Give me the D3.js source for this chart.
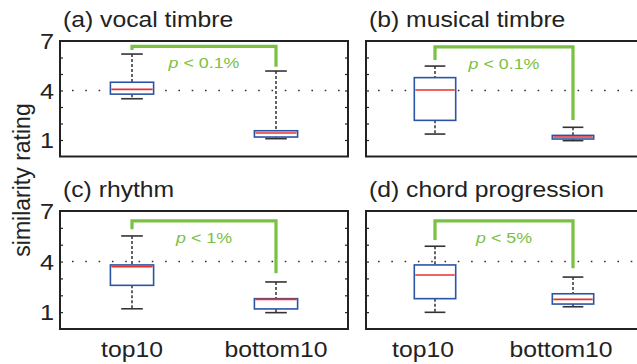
<!DOCTYPE html>
<html>
<head>
<meta charset="utf-8">
<script src="https://cdn.jsdelivr.net/npm/d3@7"></script>
<style>
  body { margin: 0; background: #fff; }
  svg text { font-family: "Liberation Sans", Arial, sans-serif; fill: #222; }
</style>
</head>
<body>
<div id="plot"></div>
<script>
let svgWidth = 637;
let svgHeight = 364;

// data
let groups = ['top10', 'bottom10'];
let titles = ['(a) vocal timbre', '(b) musical timbre', '(c) rhythm', '(d) chord progression'];
let whiskerHi = [[6.21, 5.18], [5.48, 1.77], [5.52, 2.79], [4.91, 3.08]];
let q3 = [[4.50, 1.56], [4.78, 1.28], [3.80, 1.80], [3.80, 2.09]];
let medians = [[4.07, 1.42], [4.03, 1.18], [3.70, 1.76], [3.20, 1.76]];
let q1 = [[3.78, 1.18], [2.19, 1.06], [2.59, 1.19], [1.80, 1.48]];
let whiskerLo = [[3.50, 1.08], [1.36, 0.96], [1.20, 0.97], [0.99, 1.32]];
let bracketTop = [6.68, 6.64, 6.42, 6.42];
let bracketLeft = [6.45, 5.85, 5.91, 5.28];
let bracketRight = [5.44, 2.21, 3.30, 3.60];
let pLabels = ['0.1%', '0.1%', '1%', '5%'];
let yTickLabels = [1, 4, 7];
let yMinorTicks = [1, 2, 3, 4, 5, 6];

// panel frames
let cols = [[60, 348], [366, 642]];
let rows = [[41, 156.5], [211, 329]];
let stretch = 1.15;

let green = '#7ac143';
let blue = '#2a55a5';
let red = '#e8312f';
let dark = '#222';

let $svg = d3.select('#plot')
    .append('svg')
    .attr('width', svgWidth)
    .attr('height', svgHeight);

// y label
$svg.append('text')
    .attr('transform', `translate(30, 180) rotate(-90)`)
    .attr('text-anchor', 'middle')
    .style('font-size', '23px')
    .text('similarity rating');

titles.forEach((title, i) => {
    let col = cols[i % 2];
    let row = rows[Math.floor(i / 2)];

    let x = d3.scaleLinear().domain([0.5, 2.5]).range(col);
    let y = d3.scaleLinear().domain([0, 7]).range([row[1], row[0]]);
    let unit = x(2) - x(1);
    let boxW = unit * 0.3;
    let capW = unit * 0.15;

    let g = $svg.append('g');

    // title
    g.append('text')
        .attr('transform', `translate(${col[0] + 3}, ${row[0] - 14}) scale(${stretch}, 1)`)
        .style('font-size', '21.5px')
        .text(title);

    // dotted line at 4
    g.append('line')
        .attr('x1', col[0]).attr('x2', col[1])
        .attr('y1', y(4)).attr('y2', y(4))
        .attr('stroke', '#333')
        .attr('stroke-width', 1.6)
        .attr('stroke-dasharray', '1.6,11.7')
        .attr('stroke-dashoffset', -12);

    // inner ticks, left and right
    let leftAxis = d3.axisRight(y).tickValues(yMinorTicks).tickSize(3).tickFormat('');
    let rightAxis = d3.axisLeft(y).tickValues(yMinorTicks).tickSize(3).tickFormat('');
    g.append('g').attr('transform', `translate(${col[0]}, 0)`).call(leftAxis);
    g.append('g').attr('transform', `translate(${col[1]}, 0)`).call(rightAxis);
    g.selectAll('.domain').remove();
    g.selectAll('.tick line').attr('stroke', dark).attr('stroke-width', 1.2);

    // tick labels on the left column only
    if (i % 2 === 0) {
        yTickLabels.forEach(v => {
            g.append('text')
                .attr('transform', `translate(${col[0] - 6}, ${y(v) + 8}) scale(${stretch}, 1)`)
                .attr('text-anchor', 'end')
                .style('font-size', '22px')
                .text(v);
        });
    }

    // boxes
    groups.forEach((name, j) => {
        let cx = x(j + 1);

        g.append('line')
            .attr('x1', cx).attr('x2', cx)
            .attr('y1', y(whiskerHi[i][j])).attr('y2', y(q3[i][j]))
            .attr('stroke', '#111').attr('stroke-width', 1.3)
            .attr('stroke-dasharray', '3,2');
        g.append('line')
            .attr('x1', cx).attr('x2', cx)
            .attr('y1', y(q1[i][j])).attr('y2', y(whiskerLo[i][j]))
            .attr('stroke', '#111').attr('stroke-width', 1.3)
            .attr('stroke-dasharray', '3,2');

        [whiskerHi[i][j], whiskerLo[i][j]].forEach(v => {
            g.append('line')
                .attr('x1', cx - capW / 2).attr('x2', cx + capW / 2)
                .attr('y1', y(v)).attr('y2', y(v))
                .attr('stroke', '#333').attr('stroke-width', 1.6);
        });

        g.append('rect')
            .attr('x', cx - boxW / 2)
            .attr('y', y(q3[i][j]))
            .attr('width', boxW)
            .attr('height', y(q1[i][j]) - y(q3[i][j]))
            .attr('fill', '#fff')
            .attr('stroke', blue)
            .attr('stroke-width', 1.6);

        g.append('line')
            .attr('x1', cx - boxW / 2 + 1).attr('x2', cx + boxW / 2 - 1)
            .attr('y1', y(medians[i][j])).attr('y2', y(medians[i][j]))
            .attr('stroke', red).attr('stroke-width', 1.6);
    });

    // significance bracket
    let bracket = d3.line()
        .x(d => x(d[0]))
        .y(d => y(d[1]));
    g.append('path')
        .attr('d', bracket([[1, bracketLeft[i]], [1, bracketTop[i]], [2, bracketTop[i]], [2, bracketRight[i]]]))
        .attr('fill', 'none')
        .attr('stroke', green)
        .attr('stroke-width', 3.2)
        .attr('stroke-linejoin', 'miter');

    let pText = g.append('text')
        .attr('transform', `translate(${x(1.5)}, ${y(bracketTop[i]) + 22}) scale(${stretch}, 1)`)
        .attr('text-anchor', 'middle')
        .style('font-size', '15.5px');
    pText.append('tspan').style('font-style', 'italic').style('fill', green).text('p');
    pText.append('tspan').style('fill', green).text(' < ' + pLabels[i]);

    // frame
    g.append('rect')
        .attr('x', col[0]).attr('y', row[0])
        .attr('width', col[1] - col[0])
        .attr('height', row[1] - row[0])
        .attr('fill', 'none')
        .attr('stroke', dark)
        .attr('stroke-width', 2);

    // x labels under the bottom row
    if (i >= 2) {
        groups.forEach((name, j) => {
            let shift = i === 3 ? -12 : 0;
            g.append('text')
                .attr('transform', `translate(${x(j + 1) + shift}, 357) scale(${stretch}, 1)`)
                .attr('text-anchor', 'middle')
                .style('font-size', '21.5px')
                .text(name);
        });
    }
});
</script>
</body>
</html>
